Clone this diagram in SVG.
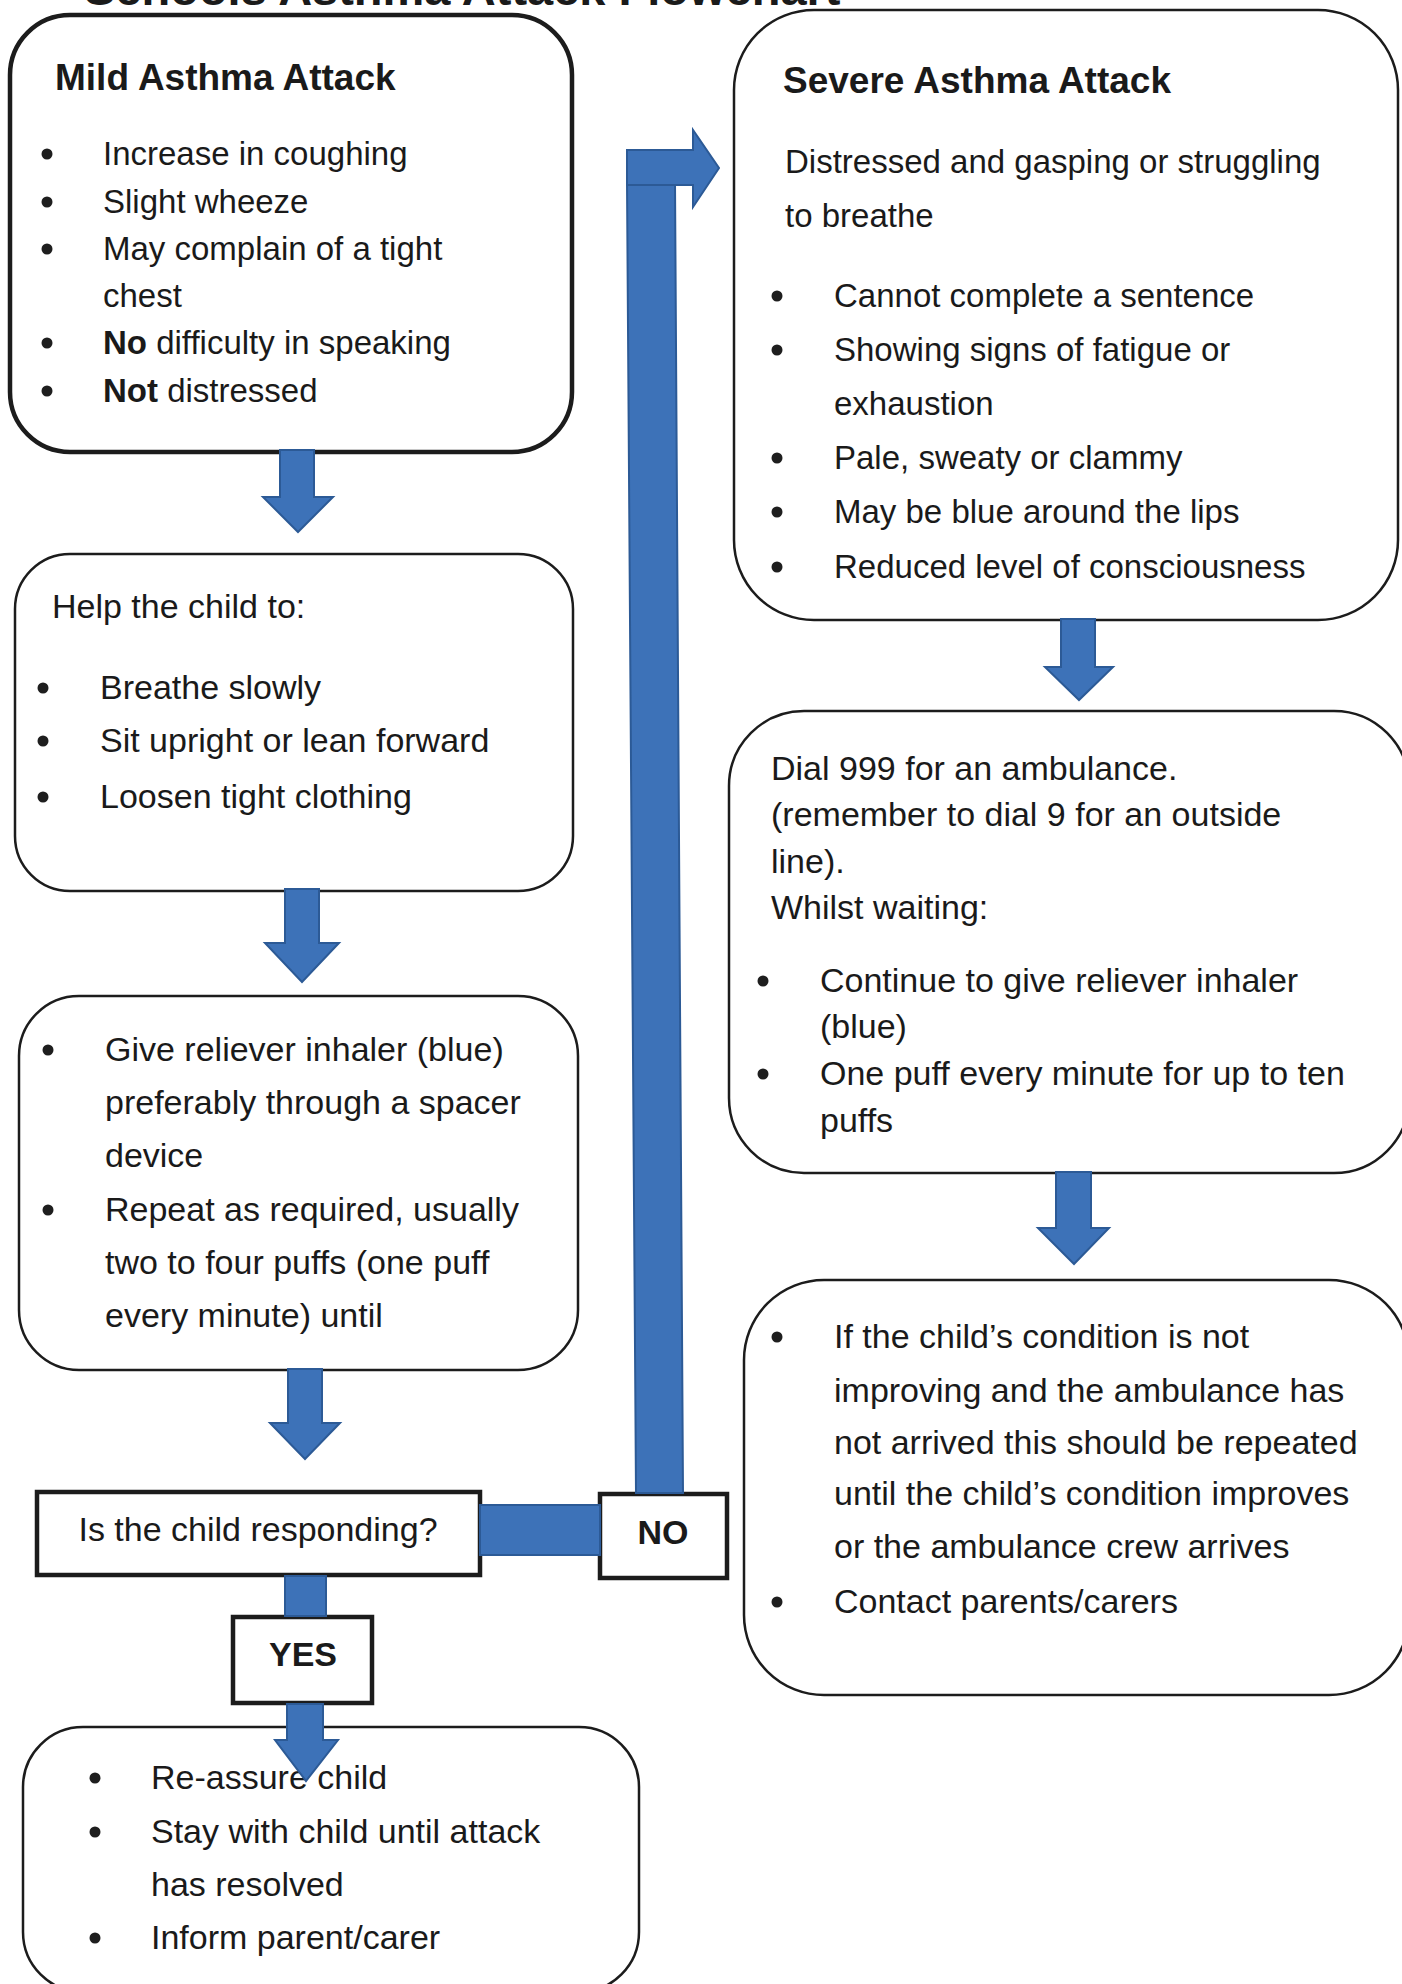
<svg xmlns="http://www.w3.org/2000/svg" width="1402" height="1984" viewBox="0 0 1402 1984">
<style>
.box{fill:#fff;stroke:#1c1c1c;stroke-width:2.5}
.thick{stroke-width:4.5}
.t{font-family:"Liberation Sans",Arial,sans-serif;font-size:34px;fill:#1a1a1a}
.s33{font-size:33px}
.b{font-weight:bold}
.h{font-weight:bold;font-size:37px}
.dot{fill:#1e1e1e}
.arrow{fill:#3d72b8;stroke:#2c5a96;stroke-width:2;stroke-linejoin:miter}
</style>
<rect width="1402" height="1984" fill="#fff"/>
<text class="t b" x="84" y="5" style="font-size:47px">Schools Asthma Attack Flowchart</text>

<g id="mild">
<rect class="box thick" x="10" y="15" width="562" height="437" rx="60"/>
<text class="t h" x="55" y="90">Mild Asthma Attack</text>
<g class="dot"><circle cx="47" cy="154" r="5.5"/><circle cx="47" cy="202" r="5.5"/><circle cx="47" cy="249" r="5.5"/><circle cx="47" cy="343" r="5.5"/><circle cx="47" cy="391" r="5.5"/></g>
<text class="t s33" x="103" y="165">Increase in coughing</text>
<text class="t s33" x="103" y="213">Slight wheeze</text>
<text class="t s33" x="103" y="260">May complain of a tight</text>
<text class="t s33" x="103" y="307">chest</text>
<text class="t s33" x="103" y="354"><tspan class="b">No</tspan> difficulty in speaking</text>
<text class="t s33" x="103" y="402"><tspan class="b">Not</tspan> distressed</text>
</g>

<g id="help">
<rect class="box" x="15" y="554" width="558" height="337" rx="55"/>
<text class="t" x="52" y="618">Help the child to:</text>
<g class="dot"><circle cx="43" cy="688" r="5.5"/><circle cx="43" cy="741" r="5.5"/><circle cx="43" cy="797" r="5.5"/></g>
<text class="t" x="100" y="699">Breathe slowly</text>
<text class="t" x="100" y="752">Sit upright or lean forward</text>
<text class="t" x="100" y="808">Loosen tight clothing</text>
</g>

<g id="give">
<rect class="box" x="19" y="996" width="559" height="374" rx="60"/>
<g class="dot"><circle cx="48" cy="1050" r="5.5"/><circle cx="48" cy="1210" r="5.5"/></g>
<text class="t" x="105" y="1061">Give reliever inhaler (blue)</text>
<text class="t" x="105" y="1114">preferably through a spacer</text>
<text class="t" x="105" y="1167">device</text>
<text class="t" x="105" y="1221">Repeat as required, usually</text>
<text class="t" x="105" y="1274">two to four puffs (one puff</text>
<text class="t" x="105" y="1327">every minute) until</text>
</g>

<g id="decision">
<rect class="box thick" x="37" y="1492" width="443" height="83"/>
<text class="t" x="258" y="1541" text-anchor="middle">Is the child responding?</text>
</g>

<g id="no">
<rect class="box thick" x="600" y="1494" width="127" height="84"/>
<text class="t b" x="663" y="1544" text-anchor="middle">NO</text>
</g>

<g id="yes">
<rect class="box thick" x="233" y="1617" width="139" height="86"/>
<text class="t b" x="303" y="1666" text-anchor="middle">YES</text>
</g>

<g id="reassure">
<rect class="box" x="23" y="1727" width="616" height="265" rx="60"/>
<g class="dot"><circle cx="95" cy="1778" r="5.5"/><circle cx="95" cy="1832" r="5.5"/><circle cx="95" cy="1938" r="5.5"/></g>
<text class="t" x="151" y="1789">Re-assure child</text>
<text class="t" x="151" y="1843">Stay with child until attack</text>
<text class="t" x="151" y="1896">has resolved</text>
<text class="t" x="151" y="1949">Inform parent/carer</text>
</g>

<g id="severe">
<rect class="box" x="734" y="10" width="664" height="610" rx="80"/>
<text class="t h" x="783" y="93">Severe Asthma Attack</text>
<text class="t s33" x="785" y="173">Distressed and gasping or struggling</text>
<text class="t s33" x="785" y="227">to breathe</text>
<g class="dot"><circle cx="777" cy="296" r="5.5"/><circle cx="777" cy="350" r="5.5"/><circle cx="777" cy="458" r="5.5"/><circle cx="777" cy="512" r="5.5"/><circle cx="777" cy="567" r="5.5"/></g>
<text class="t s33" x="834" y="307">Cannot complete a sentence</text>
<text class="t s33" x="834" y="361">Showing signs of fatigue or</text>
<text class="t s33" x="834" y="415">exhaustion</text>
<text class="t s33" x="834" y="469">Pale, sweaty or clammy</text>
<text class="t s33" x="834" y="523">May be blue around the lips</text>
<text class="t s33" x="834" y="578">Reduced level of consciousness</text>
</g>

<g id="dial">
<rect class="box" x="729" y="711" width="680" height="462" rx="75"/>
<text class="t" x="771" y="780">Dial 999 for an ambulance.</text>
<text class="t" x="771" y="826">(remember to dial 9 for an outside</text>
<text class="t" x="771" y="873">line).</text>
<text class="t" x="771" y="919">Whilst waiting:</text>
<g class="dot"><circle cx="763" cy="981" r="5.5"/><circle cx="763" cy="1074" r="5.5"/></g>
<text class="t" x="820" y="992">Continue to give reliever inhaler</text>
<text class="t" x="820" y="1038">(blue)</text>
<text class="t" x="820" y="1085">One puff every minute for up to ten</text>
<text class="t" x="820" y="1132">puffs</text>
</g>

<g id="repeat">
<rect class="box" x="744" y="1280" width="665" height="415" rx="80"/>
<g class="dot"><circle cx="777" cy="1337" r="5.5"/><circle cx="777" cy="1602" r="5.5"/></g>
<text class="t" x="834" y="1348">If the child’s condition is not</text>
<text class="t" x="834" y="1402">improving and the ambulance has</text>
<text class="t" x="834" y="1454">not arrived this should be repeated</text>
<text class="t" x="834" y="1505">until the child’s condition improves</text>
<text class="t" x="834" y="1558">or the ambulance crew arrives</text>
<text class="t" x="834" y="1613">Contact parents/carers</text>
</g>

<g id="connectors">
<path class="arrow" d="M280,450 H314 V497 H333 L298,532 L263,497 H280 Z"/>
<path class="arrow" d="M285,889 H319 V943 H339 L302,982 L265,943 H285 Z"/>
<path class="arrow" d="M288,1369 H322 V1423 H340 L305,1459 L270,1423 H288 Z"/>
<path class="arrow" d="M1061,619 H1095 V667 H1113 L1079,700 L1045,667 H1061 Z"/>
<path class="arrow" d="M1056,1172 H1091 V1228 H1109 L1074,1264 L1038,1228 H1056 Z"/>
<rect class="arrow" x="480" y="1505" width="120" height="50"/>
<path class="arrow" d="M627,182 H675 L683,1493 H636 Z"/>
<path class="arrow" d="M627,150 H693 V130 L719,168 L693,207 V185 H627 Z"/>
<rect class="arrow" x="285" y="1576" width="41" height="40"/>
<path class="arrow" d="M287,1704 H323 V1740 H338 L306,1781 L275,1740 H287 Z"/>
</g>
</svg>
